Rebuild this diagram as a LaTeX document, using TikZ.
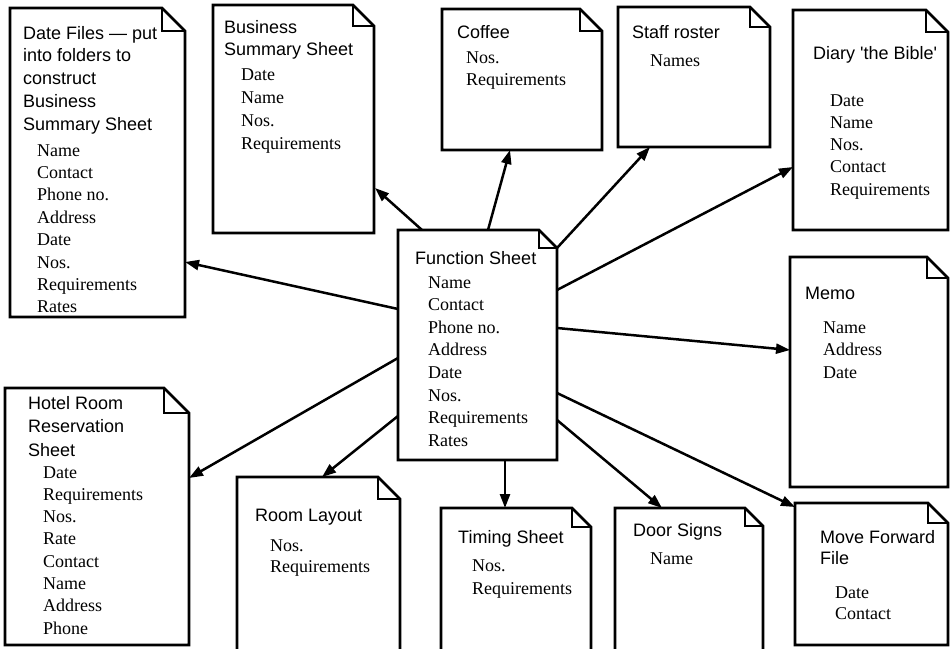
\documentclass[tikz,border=0pt]{standalone}
\usepackage{fontspec}
\setmainfont{Liberation Serif}
\setsansfont{Liberation Sans}
\usetikzlibrary{arrows.meta,calc}
\tikzset{
  docn/.style={inner sep=0pt, outer sep=0pt, anchor=north west},
  docl/.style={line width=2.6pt, line join=miter},
  foldl/.style={line width=1.8pt, line join=miter},
  ttl/.style={font=\sffamily\fontsize{18}{#1}\selectfont, anchor=base west, inner sep=0pt},
  ttl/.default=22.5,
  itm/.style={font=\rmfamily\fontsize{18}{#1}\selectfont, anchor=base west, inner sep=0pt},
  itm/.default=22.5,
  conn/.style={line width=2.5pt, -{Triangle[length=14pt,width=10pt]}},
}
% name, x, y, width, height, fold
\newcommand{\mkdoc}[6]{%
  \node[docn, minimum width=#4pt, minimum height=#5pt] (#1) at (#2,#3) {};
  \draw[docl] (#1.north west) -- ($(#1.north east)+(-#6,0)$) -- ($(#1.north east)+(0,#6)$)
     -- (#1.south east) -- (#1.south west) -- cycle;
  \draw[foldl] ($(#1.north east)+(-#6,0)$) -- ($(#1.north east)+(-#6,#6)$) -- ($(#1.north east)+(0,#6)$);
}
\newcommand{\mylines}[1]{\begin{tabular}[t]{@{}l@{}}#1\end{tabular}}

\begin{document}
\begin{tikzpicture}[x=1pt,y=-1pt]
\useasboundingbox (0,0) rectangle (952,648);
\fill[white] (0,0) rectangle (952,648);
\clip (0,0) rectangle (952,648);

% documents
\mkdoc{df}{10}{8}{175}{309}{23}
\mkdoc{bs}{213}{5}{161}{228}{21}
\mkdoc{cf}{442}{9}{160}{141}{22}
\mkdoc{sr}{618}{7}{152}{140}{20}
\mkdoc{di}{793}{10}{155}{220}{22}
\mkdoc{fs}{398}{230}{159}{230}{18}
\mkdoc{me}{790}{257}{158}{230}{21}
\mkdoc{mf}{795}{503}{153}{142}{20}
\mkdoc{ho}{5}{388}{184}{257}{25}
\mkdoc{rl}{237}{477}{163}{175}{22}
\mkdoc{ts}{441}{508}{150}{144}{19}
\mkdoc{ds}{615}{508}{148}{144}{18}

% texts
\node[ttl=22.75] (dfT) at (23,39) {\mylines{Date Files — put\\into folders to\\construct\\Business\\Summary Sheet}};
\node[itm=22.4] (dfI) at (37,156) {\mylines{Name\\Contact\\Phone no.\\Address\\Date\\Nos.\\Requirements\\Rates}};

\node[ttl=22] (bsT) at (224,33) {\mylines{Business\\Summary Sheet}};
\node[itm=23] (bsI) at (241,80) {\mylines{Date\\Name\\Nos.\\Requirements}};

\node[ttl] (cfT) at (457,38) {\mylines{Coffee}};
\node[itm=22] (cfI) at (466,63) {\mylines{Nos.\\Requirements}};

\node[ttl] (srT) at (632,38) {\mylines{Staff roster}};
\node[itm] (srI) at (650,66) {\mylines{Names}};

\node[ttl] (diT) at (813,59) {\mylines{Diary \textquotesingle the Bible\textquotesingle}};
\node[itm=22.3] (diI) at (830,106) {\mylines{Date\\Name\\Nos.\\Contact\\Requirements}};

\node[ttl] (fsT) at (415,264) {\mylines{Function Sheet}};
\node[itm=22.6] (fsI) at (428,288) {\mylines{Name\\Contact\\Phone no.\\Address\\Date\\Nos.\\Requirements\\Rates}};

\node[ttl] (meT) at (805,299) {\mylines{Memo}};
\node[itm=22.5] (meI) at (823,333) {\mylines{Name\\Address\\Date}};

\node[ttl=21] (mfT) at (820,543) {\mylines{Move Forward\\File}};
\node[itm=21.5] (mfI) at (835,598) {\mylines{Date\\Contact}};

\node[ttl=23.5] (hoT) at (28,409) {\mylines{Hotel Room\\Reservation\\Sheet}};
\node[itm=22.3] (hoI) at (43,478) {\mylines{Date\\Requirements\\Nos.\\Rate\\Contact\\Name\\Address\\Phone}};

\node[ttl] (rlT) at (255,521) {\mylines{Room Layout}};
\node[itm=21] (rlI) at (270,551) {\mylines{Nos.\\Requirements}};

\node[ttl] (tsT) at (458,543) {\mylines{Timing Sheet}};
\node[itm=23] (tsI) at (472,571) {\mylines{Nos.\\Requirements}};

\node[ttl] (dsT) at (633,536) {\mylines{Door Signs}};
\node[itm] (dsI) at (650,564) {\mylines{Name}};

% connectors
\draw[conn] ($(fs.north west)+(0,79)$) -- ($(df.north east)+(0,254)$);
\draw[conn] ($(fs.north west)+(24,0)$) -- ($(bs.north east)+(1,183)$);
\draw[conn] ($(fs.north west)+(90,0)$) -- ($(cf.south west)+(68,0)$);
\draw[conn] ($(fs.north east)+(0,18)$) -- ($(sr.south west)+(32,0)$);
\draw[conn] ($(fs.north east)+(0,60)$) -- ($(di.north west)+(0,157)$);
\draw[conn] ($(fs.north east)+(0,98)$) -- ($(me.north west)+(0,93)$);
\draw[conn] ($(fs.north east)+(0,163)$) -- ($(mf.north west)+(0,4)$);
\draw[conn] ($(fs.north east)+(0,190)$) -- ($(ds.north west)+(47,0)$);
\draw[conn] ($(fs.south west)+(107,0)$) -- ($(ts.north west)+(64,0)$);
\draw[conn] ($(fs.north west)+(0,186)$) -- ($(rl.north west)+(85,0)$);
\draw[conn] ($(fs.north west)+(0,128)$) -- ($(ho.north east)+(0,90)$);
\end{tikzpicture}
\end{document}
